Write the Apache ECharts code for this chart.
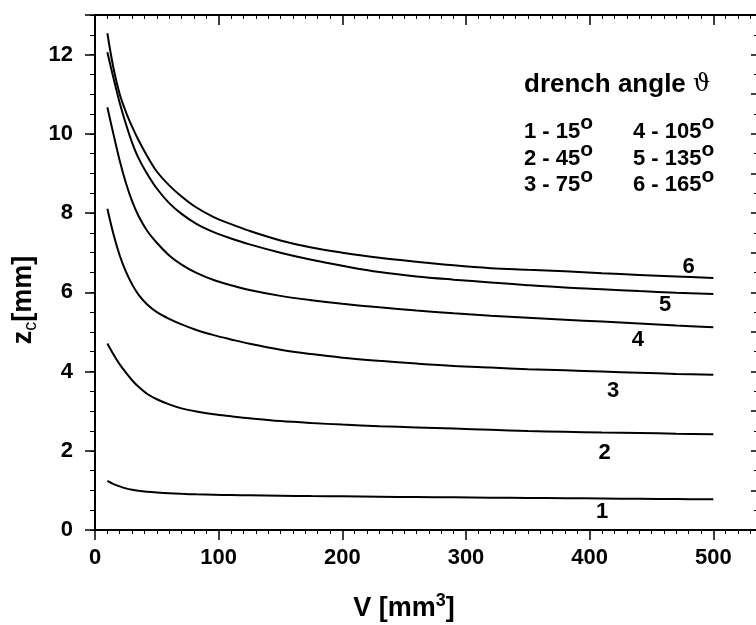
<!DOCTYPE html>
<html><head><meta charset="utf-8">
<script src="https://cdn.jsdelivr.net/npm/echarts@6/dist/echarts.min.js"></script>
<style>html,body{margin:0;padding:0;background:#fff}#c{width:756px;height:625px}</style>
</head><body><div id="c"></div>
<script>
// ---- data ----
const volume = [10, 15, 20, 25, 30, 35, 42, 50, 60, 70, 82, 96, 110, 125, 150, 175, 200, 230, 260, 290, 320, 350, 380, 410, 440, 470, 500];
const zc1 = [1.24, 1.16, 1.10, 1.05, 1.015, 0.99, 0.965, 0.945, 0.925, 0.912, 0.90, 0.89, 0.882, 0.875, 0.865, 0.856, 0.85, 0.84, 0.832, 0.825, 0.817, 0.81, 0.802, 0.795, 0.788, 0.781, 0.775];
const zc2 = [4.71, 4.43, 4.18, 3.97, 3.78, 3.62, 3.44, 3.30, 3.17, 3.07, 2.99, 2.92, 2.87, 2.82, 2.75, 2.70, 2.66, 2.62, 2.59, 2.56, 2.53, 2.50, 2.48, 2.46, 2.45, 2.43, 2.42];
const zc3 = [8.11, 7.46, 6.93, 6.52, 6.20, 5.95, 5.70, 5.50, 5.33, 5.19, 5.05, 4.92, 4.81, 4.70, 4.55, 4.44, 4.35, 4.27, 4.20, 4.14, 4.10, 4.06, 4.03, 4.00, 3.97, 3.94, 3.92];
const zc4 = [10.67, 9.98, 9.32, 8.76, 8.30, 7.94, 7.56, 7.25, 6.93, 6.70, 6.49, 6.31, 6.18, 6.06, 5.91, 5.80, 5.71, 5.62, 5.54, 5.47, 5.41, 5.36, 5.31, 5.26, 5.21, 5.16, 5.12];
const zc5 = [12.06, 11.40, 10.78, 10.25, 9.78, 9.40, 9.00, 8.62, 8.25, 7.98, 7.73, 7.52, 7.36, 7.21, 7.00, 6.82, 6.67, 6.51, 6.40, 6.32, 6.25, 6.18, 6.12, 6.08, 6.03, 5.99, 5.96];
const zc6 = [12.54, 11.65, 11.00, 10.55, 10.18, 9.85, 9.45, 9.05, 8.70, 8.42, 8.14, 7.90, 7.72, 7.55, 7.31, 7.13, 7.00, 6.87, 6.77, 6.68, 6.61, 6.57, 6.53, 6.48, 6.44, 6.40, 6.36];
const curveNames = ['1', '2', '3', '4', '5', '6'];
const drenchAngles = [15, 45, 75, 105, 135, 165];
const xTickLabels = [0, 100, 200, 300, 400, 500];
const yTickLabels = [0, 2, 4, 6, 8, 10, 12];

// ---- chart ----
const FONT = 'Liberation Sans';
const curves = [zc1, zc2, zc3, zc4, zc5, zc6];
// where each curve number sits (data coordinates)
const labelAnchors = [[410, 0.46], [412, 1.95], [419, 3.50], [439, 4.79], [461, 5.69], [480, 6.64]];

const series = curves.map((vals, i) => ({
  type: 'line',
  name: curveNames[i],
  data: volume.map((v, k) => [v, vals[k]]),
  showSymbol: false,
  smooth: 0.35,
  lineStyle: { color: '#000', width: 2 },
  silent: true
}));
series.push({
  type: 'scatter',
  symbolSize: 0,
  silent: true,
  itemStyle: { opacity: 1, color: '#000' },
  data: labelAnchors.map((p, i) => ({ value: p, name: curveNames[i] })),
  label: { show: true, position: 'inside', formatter: '{b}', fontSize: 22, fontWeight: 'bold', fontFamily: FONT, color: '#000', opacity: 1 }
});

const axisLineStyle = { show: true, onZero: false, lineStyle: { color: '#000', width: 2 } };

const graphics = [];
// y axis title
graphics.push({
  type: 'text', x: 25, y: 300, rotation: Math.PI / 2,
  style: {
    text: '{z|z}{c|c}{m|[mm]}', align: 'center', verticalAlign: 'middle', fill: '#000',
    rich: {
      z: { fontSize: 27, fontWeight: 'bold', fontFamily: FONT, lineHeight: 30, verticalAlign: 'top', fill: '#000' },
      c: { fontSize: 18, fontFamily: FONT, lineHeight: 14, verticalAlign: 'bottom', fill: '#000' },
      m: { fontSize: 27, fontWeight: 'bold', fontFamily: FONT, lineHeight: 30, verticalAlign: 'top', fill: '#000' }
    }
  }
});
// x axis title
graphics.push({
  type: 'text', x: 404, y: 607,
  style: {
    text: '{b|V [mm}{s|3}{b|]}', align: 'center', verticalAlign: 'middle', fill: '#000',
    rich: {
      b: { fontSize: 27, fontWeight: 'bold', fontFamily: FONT, lineHeight: 30, verticalAlign: 'bottom', fill: '#000' },
      s: { fontSize: 18, fontWeight: 'bold', fontFamily: FONT, lineHeight: 24, verticalAlign: 'top', fill: '#000' }
    }
  }
});
// legend block
graphics.push({
  type: 'text', x: 524, y: 85,
  style: {
    text: '{b|drench angle }{t|\u03D1}', align: 'left', verticalAlign: 'middle', fill: '#000',
    rich: {
      b: { fontSize: 26, fontWeight: 'bold', fontFamily: FONT, fill: '#000' },
      t: { fontSize: 24, fontFamily: 'DejaVu Serif', fill: '#000' }
    }
  }
});
const rowY = [128, 155, 181];
const colX = [524, 633];
drenchAngles.forEach((a, i) => {
  const col = Math.floor(i / 3), row = i % 3;
  graphics.push({
    type: 'text', x: colX[col], y: rowY[row],
    style: {
      text: '{b|' + curveNames[i] + ' - ' + a + '}{o|o}', align: 'left', verticalAlign: 'middle', fill: '#000',
      rich: {
        b: { fontSize: 22, fontWeight: 'bold', fontFamily: FONT, lineHeight: 30, verticalAlign: 'bottom', fill: '#000' },
        o: { fontSize: 21, fontWeight: 'bold', fontFamily: FONT, lineHeight: 13, verticalAlign: 'top', fill: '#000' }
      }
    }
  });
});

const option = {
  animation: false,
  backgroundColor: '#fff',
  grid: { left: 95, top: 15, width: 742, height: 515, outerBoundsMode: 'none', containLabel: false },
  xAxis: [
    {
      type: 'value', position: 'bottom', min: 0, max: 600, interval: 100,
      axisLine: axisLineStyle,
      axisTick: { show: true, inside: false, length: 10, lineStyle: { color: '#000', width: 1.5 } },
      minorTick: { show: true, splitNumber: 10, length: 4, lineStyle: { color: '#000', width: 1 } },
      splitLine: { show: false }, minorSplitLine: { show: false },
      axisLabel: { margin: 17, fontSize: 22, fontWeight: 'bold', fontFamily: FONT, color: '#000',
        formatter: v => xTickLabels.includes(v) ? String(v) : '' }
    },
    {
      type: 'value', position: 'top', min: 0, max: 600, interval: 100,
      axisLine: axisLineStyle,
      axisTick: { show: true, inside: true, length: 10, lineStyle: { color: '#000', width: 1.5 } },
      minorTick: { show: true, splitNumber: 10, length: 4, lineStyle: { color: '#000', width: 1 } },
      splitLine: { show: false }, axisLabel: { show: false }
    }
  ],
  yAxis: [
    {
      type: 'value', position: 'left', min: 0, max: 13, interval: 2,
      axisLine: axisLineStyle,
      axisTick: { show: true, inside: false, length: 10, lineStyle: { color: '#000', width: 1.5 } },
      splitLine: { show: false },
      axisLabel: { margin: 22, fontSize: 22, fontWeight: 'bold', fontFamily: FONT, color: '#000',
        formatter: v => yTickLabels.includes(v) ? String(v) : '' }
    },
    {
      type: 'value', position: 'left', min: 0, max: 13, interval: 0.5,
      axisLine: { show: false },
      axisTick: { show: true, inside: false, length: 5, lineStyle: { color: '#000', width: 1 } },
      splitLine: { show: false }, axisLabel: { show: false }
    },
    {
      type: 'value', position: 'right', offset: -76, min: 0, max: 13, interval: 1,
      axisLine: axisLineStyle,
      axisTick: { show: true, inside: true, length: 10, lineStyle: { color: '#000', width: 1.5 } },
      minorTick: { show: true, splitNumber: 2, length: 7, lineStyle: { color: '#000', width: 1 } },
      splitLine: { show: false }, axisLabel: { show: false }
    }
  ],
  series: series,
  graphic: graphics
};

const chart = echarts.init(document.getElementById('c'), null, { renderer: 'canvas' });
chart.setOption(option);
</script>
</body></html>
